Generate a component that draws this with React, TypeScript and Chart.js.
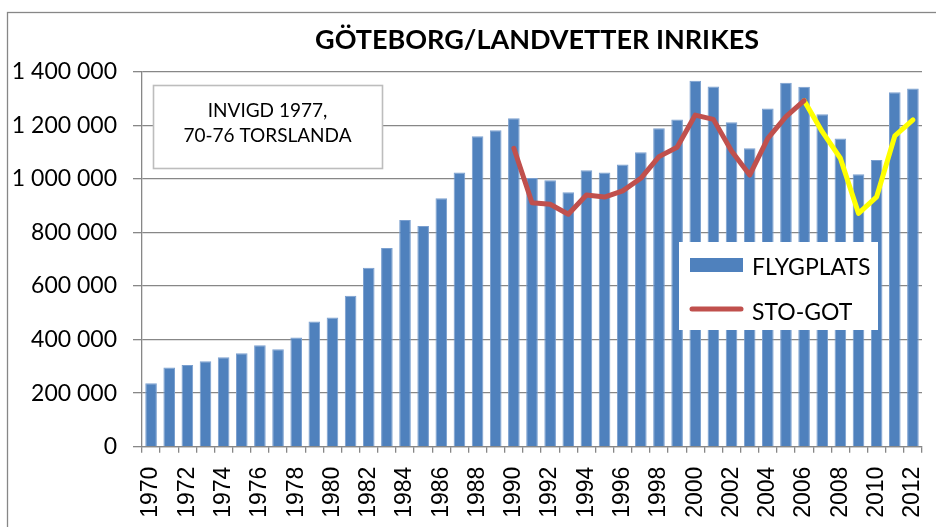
import React, { useEffect, useRef } from "react";
import { Chart, registerables } from "chart.js";

Chart.register(...registerables);

const years = [
  "1970", "1971", "1972", "1973", "1974", "1975", "1976", "1977", "1978", "1979",
  "1980", "1981", "1982", "1983", "1984", "1985", "1986", "1987", "1988", "1989",
  "1990", "1991", "1992", "1993", "1994", "1995", "1996", "1997", "1998", "1999",
  "2000", "2001", "2002", "2003", "2004", "2005", "2006", "2007", "2008", "2009",
  "2010", "2011", "2012",
];

const flygplats = [
  237000, 296000, 305000, 319000, 334000, 349000, 379000, 364000, 408000, 467000,
  482000, 564000, 668000, 742000, 846000, 824000, 928000, 1024000, 1159000, 1181000,
  1226000, 1003000, 995000, 950000, 1032000, 1024000, 1054000, 1099000, 1189000, 1222000,
  1366000, 1345000, 1211000, 1114000, 1263000, 1359000, 1344000, 1241000, 1151000, 1017000,
  1070000, 1323000, 1337000,
];

const stoGotYears = [
  "1990", "1991", "1992", "1993", "1994", "1995", "1996", "1997", "1998",
  "1999", "2000", "2001", "2002", "2003", "2004", "2005", "2006",
];
const stoGotValues = [
  1114000, 911000, 905000, 868000, 940000, 932000, 955000, 1002000, 1083000,
  1118000, 1238000, 1222000, 1104000, 1014000, 1151000, 1232000, 1292000,
];

const yellowYears = ["2006", "2007", "2008", "2009", "2010", "2011", "2012"];
const yellowValues = [1292000, 1176000, 1077000, 871000, 933000, 1160000, 1220000];

const yTicks = [0, 200000, 400000, 600000, 800000, 1000000, 1200000, 1400000];

const titleText = "GÖTEBORG/LANDVETTER INRIKES";
const noteLines = ["INVIGD 1977,", "70-76 TORSLANDA"];
const legendLabels = ["FLYGPLATS", "STO-GOT"];

const BLUE = "#4F81BD";
const RED = "#C0504D";
const YELLOW = "#FFFF00";
const GRID = "#878787";
const FONT = "Lato, 'Open Sans', sans-serif";

const fmt = (v: number) =>
  String(Math.round(v)).replace(/\B(?=(\d{3})+(?!\d))/g, " ");

const decorPlugin = {
  id: "decor",
  beforeDraw(chart: any) {
    const ctx = chart.ctx;
    ctx.save();
    ctx.fillStyle = "#ffffff";
    ctx.fillRect(0, 0, chart.width, chart.height);
    ctx.strokeStyle = GRID;
    ctx.lineWidth = 1.3;
    ctx.strokeRect(7.5, 12.5, 1200, 1200);
    ctx.restore();
  },
  beforeDatasetsDraw(chart: any) {
    const ctx = chart.ctx;
    ctx.save();
    ctx.fillStyle = "#ffffff";
    ctx.fillRect(153, 85, 229, 84);
    ctx.strokeStyle = "#bdbdbd";
    ctx.lineWidth = 1.6;
    ctx.strokeRect(153.5, 85.5, 229, 83);
    ctx.fillStyle = "#000000";
    ctx.font = `19px ${FONT}`;
    ctx.textAlign = "center";
    ctx.textBaseline = "alphabetic";
    ctx.fillText(noteLines[0], 267.5, 117);
    ctx.fillText(noteLines[1], 267.5, 142);
    ctx.restore();
  },
  afterDatasetsDraw(chart: any) {
    const ctx = chart.ctx;
    ctx.save();
    ctx.fillStyle = "#ffffff";
    ctx.fillRect(679, 242, 199, 88);
    ctx.fillStyle = BLUE;
    ctx.fillRect(690, 258, 53, 14);
    ctx.strokeStyle = RED;
    ctx.lineWidth = 5;
    ctx.lineCap = "round";
    ctx.beginPath();
    ctx.moveTo(692, 309);
    ctx.lineTo(741, 309);
    ctx.stroke();
    ctx.fillStyle = "#000000";
    ctx.font = `23px ${FONT}`;
    ctx.textAlign = "left";
    ctx.textBaseline = "alphabetic";
    ctx.fillText(legendLabels[0], 752, 275);
    ctx.fillText(legendLabels[1], 752, 320);
    ctx.restore();
  },
  afterDraw(chart: any) {
    const ctx = chart.ctx;
    ctx.save();
    ctx.fillStyle = "#000000";
    ctx.font = `bold 27px ${FONT}`;
    ctx.textAlign = "center";
    ctx.textBaseline = "alphabetic";
    ctx.fillText(titleText, 537, 49);
    ctx.restore();
  },
};

export default function App() {
  const ref = useRef<HTMLCanvasElement | null>(null);

  useEffect(() => {
    if (!ref.current) return;
    const chart = new Chart(ref.current, {
      type: "bar",
      data: {
        labels: years,
        datasets: [
          {
            type: "line",
            label: legendLabels[1],
            data: stoGotYears.map((y, i) => ({ x: y, y: stoGotValues[i] })),
            borderColor: RED,
            borderWidth: 5,
            borderCapStyle: "round",
            borderJoinStyle: "round",
            pointRadius: 0,
            tension: 0,
            order: 0,
          } as any,
          {
            type: "line",
            label: "yellow",
            data: yellowYears.map((y, i) => ({ x: y, y: yellowValues[i] })),
            borderColor: YELLOW,
            borderWidth: 5,
            borderCapStyle: "round",
            borderJoinStyle: "round",
            pointRadius: 0,
            tension: 0,
            order: 1,
          } as any,
          {
            type: "bar",
            label: legendLabels[0],
            data: flygplats,
            backgroundColor: BLUE,
            borderColor: "#7a9fcf",
            borderWidth: 1,
            barPercentage: 0.64,
            categoryPercentage: 1,
            order: 2,
          } as any,
        ],
      },
      options: {
        responsive: false,
        animation: false,
        layout: { padding: { top: 71.7, right: 14, left: 0, bottom: 0 } },
        plugins: {
          legend: { display: false },
          title: { display: false },
          tooltip: { enabled: false },
        },
        scales: {
          x: {
            type: "category",
            grid: {
              drawOnChartArea: false,
              drawTicks: true,
              tickLength: 6,
              color: GRID,
              lineWidth: 1.3,
              offset: true,
            },
            border: { color: GRID, width: 1.3 },
            ticks: {
              autoSkip: false,
              minRotation: 90,
              maxRotation: 90,
              padding: 14,
              color: "#000000",
              font: { family: "'Liberation Sans', Arial, sans-serif", size: 23 },
              callback: (_v: any, i: number) => (i % 2 === 0 ? years[i] : ""),
            },
            afterFit: (scale: any) => {
              scale.height = 80.3;
              scale.paddingLeft = 0;
              scale.paddingRight = 0;
            },
          },
          y: {
            min: 0,
            max: 1400000,
            grid: {
              color: GRID,
              lineWidth: 1.3,
              drawTicks: true,
              tickLength: 9,
            },
            border: { color: GRID, width: 1.3 },
            afterBuildTicks: (scale: any) => {
              scale.ticks = yTicks.map((v) => ({ value: v }));
            },
            ticks: {
              padding: 16,
              color: "#000000",
              font: { family: FONT, size: 23 },
              callback: (v: any) => fmt(Number(v)),
            },
            afterFit: (scale: any) => {
              scale.width = 142;
              scale.paddingTop = 0;
              scale.paddingBottom = 0;
            },
          },
        },
      },
      plugins: [decorPlugin],
    });
    return () => chart.destroy();
  }, []);

  return (
    <div style={{ position: "absolute", left: 0, top: 0, width: 936, height: 527 }}>
      <canvas ref={ref} width={936} height={527} />
    </div>
  );
}
